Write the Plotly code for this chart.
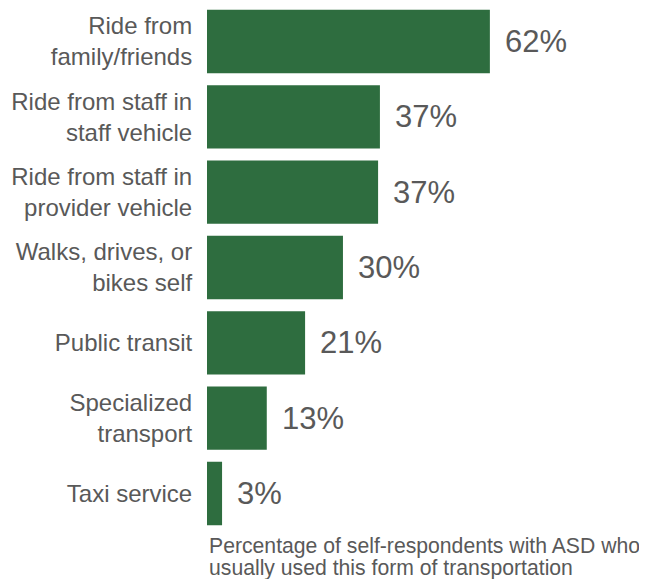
import plotly.graph_objects as go

categories = [
    "Ride from<br>family/friends",
    "Ride from staff in<br>staff vehicle",
    "Ride from staff in<br>provider vehicle",
    "Walks, drives, or<br>bikes self",
    "Public transit",
    "Specialized<br>transport",
    "Taxi service",
]
values = [62, 37.9, 37.5, 29.8, 21.5, 13.1, 3.3]
value_labels = ["62%", "37%", "37%", "30%", "21%", "13%", "3%"]
axis_title_lines = [
    "Percentage of self-respondents with ASD who",
    "usually used this form of transportation",
]

FONT = "Arial, 'Liberation Sans', sans-serif"
GRAY = "#595959"
GREEN = "#2E6D3F"

fig = go.Figure()
fig.add_trace(go.Bar(
    x=values,
    y=categories,
    orientation="h",
    marker=dict(color=GREEN, line=dict(width=0)),
    width=0.84,
    hoverinfo="skip",
))

for v, c, t in zip(values, categories, value_labels):
    fig.add_annotation(
        x=v, y=c, text=t, showarrow=False,
        xanchor="left", yanchor="middle", xshift=13,
        font=dict(family=FONT, size=31, color=GRAY),
    )

for i, line in enumerate(axis_title_lines):
    fig.add_annotation(
        xref="paper", yref="paper", x=0, y=0, yshift=7 - 22 * i,
        xanchor="left", yanchor="top", align="left",
        text=line, showarrow=False,
        font=dict(family=FONT, size=21.2, color=GRAY),
    )

fig.update_layout(
    width=639, height=571,
    margin=dict(l=199, r=75, t=0, b=40, pad=0),
    paper_bgcolor="white", plot_bgcolor="white",
    showlegend=False,
    xaxis=dict(range=[0, 80], visible=False, fixedrange=True),
    yaxis=dict(
        range=[6.604, -0.4447],
        type="category",
        showgrid=False, zeroline=False, showline=False,
        ticks="outside", ticklen=9, tickcolor="rgba(0,0,0,0)",
        tickfont=dict(family=FONT, size=24, color=GRAY),
    ),
)

fig.write_html("out.html")
